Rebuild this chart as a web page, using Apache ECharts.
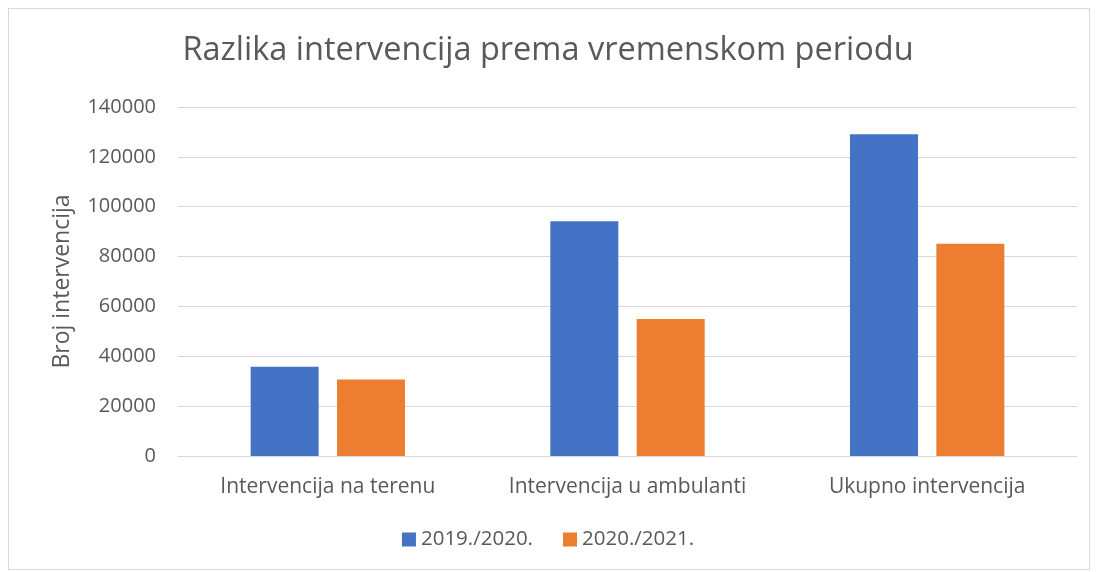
<!DOCTYPE html>
<html lang="hr">
<head>
<meta charset="UTF-8">
<title>Razlika intervencija</title>
<script src="https://cdn.jsdelivr.net/npm/echarts@6/dist/echarts.min.js"></script>
<style>
html, body { margin: 0; padding: 0; background: #fff; }
#chart { width: 1096px; height: 572px; }
#frame { position: absolute; left: 8px; top: 8px; width: 1082px; height: 562px; border: 1px solid #d9d9d9; box-sizing: border-box; pointer-events: none; }
</style>
</head>
<body>
<div id="chart"></div>
<div id="frame"></div>
<script>
// podaci
var kategorije = ['Intervencija na terenu', 'Intervencija u ambulanti', 'Ukupno intervencija'];
var nazivSerija = ['2019./2020.', '2020./2021.'];
var sezona1920 = [35800, 94200, 129100];
var sezona2021 = [30700, 55000, 85100];

var font = 'Open Sans';
var siva = '#595959';

var chart = echarts.init(document.getElementById('chart'));
chart.setOption({
  animation: false,
  textStyle: { fontFamily: font },
  title: {
    text: 'Razlika intervencija prema vremenskom periodu',
    left: 'center',
    top: 29,
    textStyle: { fontFamily: font, fontSize: 32.5, fontWeight: 'normal', color: siva }
  },
  legend: {
    bottom: 17,
    left: 'center',
    itemWidth: 14,
    itemHeight: 14,
    itemGap: 30,
    icon: 'rect',
    textStyle: { fontSize: 20.5, color: siva },
    data: nazivSerija
  },
  grid: { left: 178, right: 19, top: 107, bottom: 116, containLabel: false },
  xAxis: {
    type: 'category',
    data: kategorije,
    axisTick: { show: false },
    axisLine: { lineStyle: { color: '#d9d9d9' } },
    axisLabel: { fontSize: 21, color: siva, margin: 21, interval: 0, hideOverlap: false }
  },
  yAxis: {
    type: 'value',
    min: 0,
    max: 140000,
    interval: 20000,
    name: 'Broj intervencija',
    nameLocation: 'middle',
    nameGap: 104,
    nameTextStyle: { fontSize: 23, color: siva },
    axisLabel: { fontSize: 20, color: siva, margin: 22, formatter: function (v) { return String(v); } },
    splitLine: { lineStyle: { color: '#d9d9d9' } }
  },
  series: [
    {
      name: nazivSerija[0],
      type: 'bar',
      data: sezona1920,
      barWidth: 68,
      barGap: '27%',
      itemStyle: { color: '#4472c4' }
    },
    {
      name: nazivSerija[1],
      type: 'bar',
      data: sezona2021,
      barWidth: 68,
      itemStyle: { color: '#ed7d31' }
    }
  ]
});
</script>
</body>
</html>
